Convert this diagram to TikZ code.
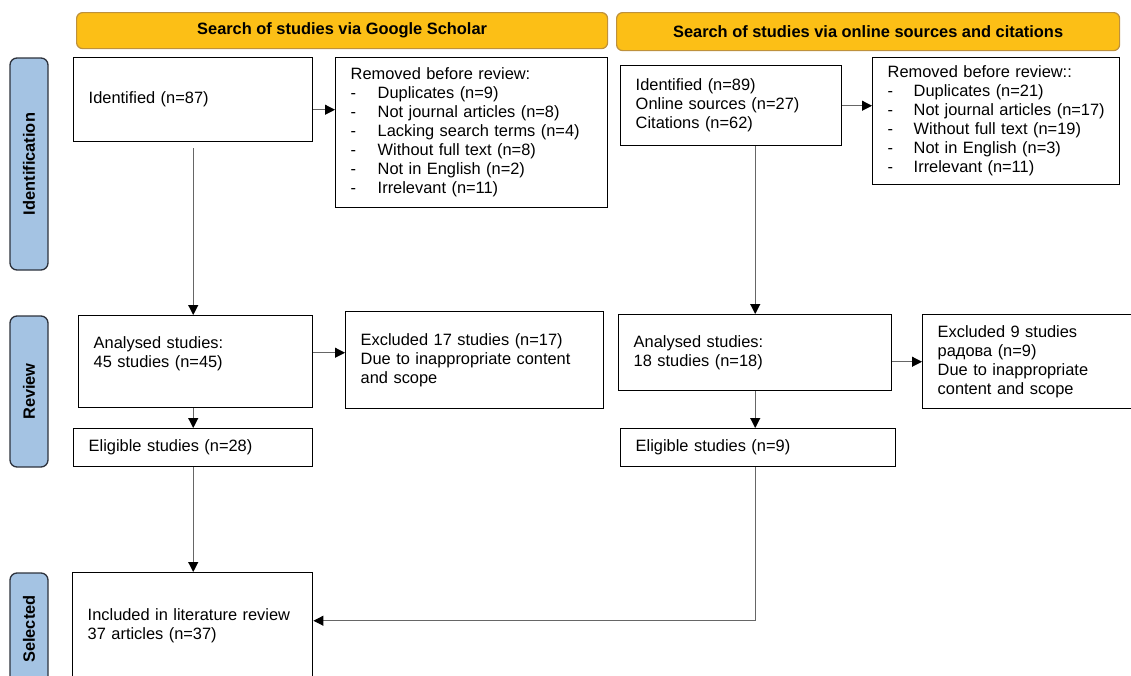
\documentclass[tikz,border=0pt]{standalone}
\usepackage{fontspec}
\setmainfont{Liberation Sans}
\usetikzlibrary{arrows.meta,positioning}

\definecolor{hdrfill}{RGB}{252,191,22}
\definecolor{hdrline}{RGB}{190,145,60}
\definecolor{stagefill}{RGB}{164,195,227}
\definecolor{stageline}{RGB}{45,50,60}

\newlength{\pxu}
\setlength{\pxu}{0.75pt}
\newcommand{\dashitem}[1]{\makebox[27\pxu][l]{-}#1}

\tikzset{
  box/.style={draw, line width=1.1pt, anchor=north west, align=left,
    inner xsep=15\pxu, inner ysep=0pt,
    font=\fontsize{12.3}{14.25}\selectfont},
  hdr/.style={draw=hdrline, fill=hdrfill, line width=0.9pt, rounded corners=6\pxu,
    anchor=north west, inner sep=0pt,
    font=\bfseries\fontsize{12.3}{14.25}\selectfont},
  stage/.style={draw=stageline, fill=stagefill, line width=1pt, rounded corners=7\pxu,
    rotate=90, inner sep=0pt, minimum height=38\pxu,
    font=\bfseries\fontsize{12.3}{14.25}\selectfont},
  flow/.style={->, draw=black!60, line width=0.8pt}
}

\begin{document}
\begin{tikzpicture}[x=0.75pt,y=-0.75pt,
    >={Triangle[length=7.5pt,width=7.5pt,color=black]}]
  \useasboundingbox (0,0) rectangle (1131,675);

  % headers
  \node[hdr, minimum width=531\pxu, minimum height=36\pxu] (hdrL) at (76,12) {Search of studies via Google Scholar};
  \node[hdr, minimum width=503\pxu, minimum height=38\pxu] (hdrR) at (616,12) {Search of studies via online sources and citations};

  % stages
  \node[stage, minimum width=212\pxu] (labId) at (29,164) {Identification};
  \node[stage, minimum width=151\pxu] (labRev) at (29,391.5) {Review};
  \node[stage, minimum width=112\pxu] (labSel) at (29,629) {Selected};

  % Google Scholar column
  \node[box, text width=209\pxu, minimum height=84\pxu] (idL) at (73,57) {Identified (n=87)};
  \node[box, text width=242\pxu, minimum height=150\pxu] (remL) at (335,57) {Removed before review:\\
    \dashitem{Duplicates (n=9)}\\
    \dashitem{Not journal articles (n=8)}\\
    \dashitem{Lacking search terms (n=4)}\\
    \dashitem{Without full text (n=8)}\\
    \dashitem{Not in English (n=2)}\\
    \dashitem{Irrelevant (n=11)}};
  \node[box, text width=204\pxu, minimum height=92\pxu] (anaL) at (78,315) {Analysed studies:\\45 studies (n=45)\\\mbox{}};
  \node[box, text width=228\pxu, minimum height=97\pxu] (excL) at (345,311) {Excluded 17 studies (n=17)\\Due to inappropriate content\\and scope};
  \node[box, text width=209\pxu, minimum height=38\pxu] (eliL) at (73,428) {Eligible studies (n=28)};
  \node[box, text width=210\pxu, minimum height=106\pxu] (incl) at (72,572) {Included in literature review\\37 articles (n=37)};

  % online sources column
  \node[box, text width=191\pxu, minimum height=80\pxu] (idR) at (620,65) {Identified (n=89)\\Online sources (n=27)\\Citations (n=62)};
  \node[box, text width=217\pxu, minimum height=127\pxu] (remR) at (872,57) {Removed before review::\\
    \makebox[26\pxu][l]{-}Duplicates (n=21)\\
    \makebox[26\pxu][l]{-}Not journal articles (n=17)\\
    \makebox[26\pxu][l]{-}Without full text (n=19)\\
    \makebox[26\pxu][l]{-}Not in English (n=3)\\
    \makebox[26\pxu][l]{-}Irrelevant (n=11)};
  \node[box, text width=243\pxu, minimum height=76\pxu] (anaR) at (618,314) {Analysed studies:\\18 studies (n=18)};
  \node[box, text width=184\pxu, minimum height=94\pxu] (excR) at (922,314) {Excluded 9 studies\\радова (n=9)\\Due to inappropriate\\content and scope};
  \node[box, text width=245\pxu, minimum height=38\pxu] (eliR) at (620,428) {Eligible studies (n=9)};

  % connectors
  \draw[flow] ([yshift=-10\pxu]idL.east) coordinate (t1) -- (t1 -| remL.west);
  \draw[flow] ([yshift=-6\pxu]idL.south) -- (anaL.north -| idL.south);
  \draw[flow] ([yshift=9\pxu]anaL.east) coordinate (t2) -- (t2 -| excL.west);
  \draw[flow] (anaL.south -| eliL.north) -- (eliL.north);
  \draw[flow] (eliL.south) -- (eliL.south |- incl.north);

  \draw[flow] (idR.east) -- (idR.east -| remR.west);
  \draw[flow] (idR.south -| anaR.north) -- (anaR.north);
  \draw[flow] (anaR.east |- excR.west) -- (excR.west);
  \draw[flow] (anaR.south) -- (anaR.south |- eliR.north);
  \draw[flow] (eliR.south -| anaR.south) |- ([yshift=5\pxu]incl.east);
\end{tikzpicture}
\end{document}
